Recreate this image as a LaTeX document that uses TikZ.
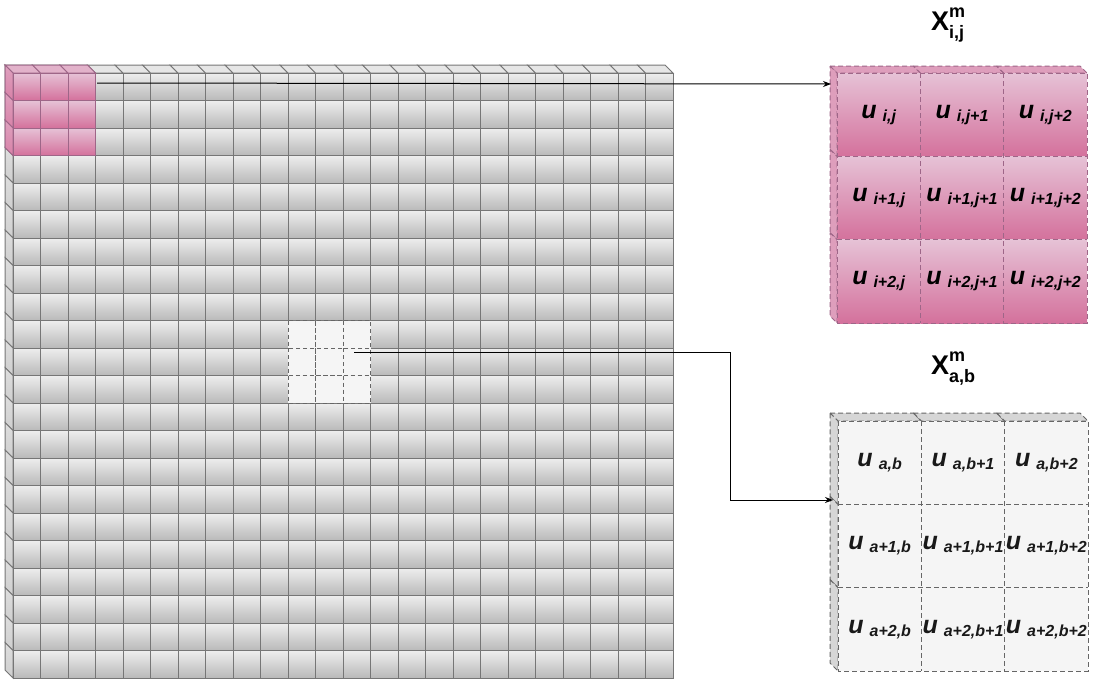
\documentclass[tikz,border=0pt]{standalone}
\usepackage{fontspec}
\setmainfont{Liberation Sans}
\usetikzlibrary{positioning,arrows.meta,calc}
\definecolor{grayTop}{HTML}{EEEEEE}
\definecolor{grayBot}{HTML}{B9B9B9}
\definecolor{grayLine}{HTML}{767676}
\definecolor{pinkTop}{HTML}{E6C2D6}
\definecolor{pinkBot}{HTML}{D4719C}
\definecolor{pinkLine}{HTML}{9E6688}
\definecolor{paleFill}{HTML}{F5F5F5}
\definecolor{darkLine}{HTML}{666666}
\newcommand{\ucell}[1]{{\fontsize{25}{27}\selectfont\bfseries\itshape u}\hspace{6pt}\raisebox{-3pt}{\fontsize{16}{18}\selectfont\bfseries\itshape #1}}
\newcommand{\tsym}[1]{X\rlap{\raisebox{13pt}{\fontsize{18}{20}\selectfont m}}\raisebox{-8pt}{\fontsize{18}{20}\selectfont #1}}
\tikzset{
  cube/.style={draw=grayLine, line width=1pt, top color=grayTop, bottom color=grayBot},
  face/.style={draw=grayLine, line width=1pt, fill=grayTop!85!grayBot},
  side/.style={draw=grayLine, line width=1pt, top color=grayTop!70!grayBot, bottom color=grayTop!40!grayBot},
  pcube/.style={draw=pinkLine, line width=1pt, top color=pinkTop, bottom color=pinkBot},
  pface/.style={draw=pinkLine, line width=1pt, fill=pinkTop!80!pinkBot},
  pside/.style={draw=pinkLine, line width=1pt, top color=pinkTop!60!pinkBot, bottom color=pinkTop!20!pinkBot},
  wcube/.style={draw=darkLine, line width=1pt, fill=paleFill, dash pattern=on 4pt off 3pt},
  bigcell/.style={minimum width=83.33pt, minimum height=83.33pt, inner sep=0pt, outer sep=0pt},
  pcell/.style={top color=pinkTop, bottom color=pinkBot},
  gcell/.style={fill=paleFill, text=black!90},
  pdash/.style={draw=pinkLine, line width=1pt, dash pattern=on 5pt off 3pt},
  gdash/.style={draw=darkLine, line width=1pt, dash pattern=on 5pt off 3pt},
  pdep/.style={pdash, fill=pinkTop!55!pinkBot},
  gdep/.style={gdash, fill=black!16},
  title/.style={font=\fontsize{27}{29}\selectfont\bfseries, inner sep=0pt, anchor=base west},
  link/.style={-{Stealth[length=8pt,width=6pt]}, line width=1pt, black},
}
\begin{document}
\begin{tikzpicture}[x=1pt,y=-1pt]
\useasboundingbox (0,0) rectangle (1098,681);
% input grid, 24 x 22 cubes
\foreach \c in {0,...,23}
  \draw[face] ({5+\c*27.5},65) -- ++(27.5,0) -- ++(8,8) -- ++(-27.5,0) -- cycle;
\foreach \r in {0,...,21}
  \draw[side] (5,{65+\r*27.5}) -- ++(8,8) -- ++(0,27.5) -- ++(-8,-8) -- cycle;
\foreach \c in {0,...,23}
  \foreach \r in {0,...,21}
    \draw[cube] ({13+\c*27.5},{73+\r*27.5}) rectangle ++(27.5,27.5);
% patch at (i,j)
\foreach \c in {0,1,2}
  \draw[pface] ({5+\c*27.5},65) -- ++(27.5,0) -- ++(8,8) -- ++(-27.5,0) -- cycle;
\foreach \r in {0,1,2}
  \draw[pside] (5,{65+\r*27.5}) -- ++(8,8) -- ++(0,27.5) -- ++(-8,-8) -- cycle;
\foreach \c in {0,1,2}
  \foreach \r in {0,1,2}
    \draw[pcube] ({13+\c*27.5},{73+\r*27.5}) rectangle ++(27.5,27.5);
% patch at (a,b)
\foreach \c in {10,11,12}
  \foreach \r in {9,10,11}
    \draw[wcube] ({13+\c*27.5},{73+\r*27.5}) rectangle ++(27.5,27.5);
\coordinate (srcP) at (97,83);
\coordinate (srcW) at (354,352);

% X_{i,j}
\foreach \c in {0,1,2}
  \draw[pdep] ({830+\c*83.33},66) -- ++(83.33,0) -- ++(7,7) -- ++(-83.33,0) -- cycle;
\foreach \r in {0,1,2}
  \draw[pdep] (830,{66+\r*83.33}) -- ++(7,7) -- ++(0,83.33) -- ++(-7,-7) -- cycle;
\foreach \r/\rl in {0/i,1/i+1,2/i+2}
  \foreach \c/\cl in {0/j,1/j+1,2/j+2}
    \node[bigcell, pcell] (p\r\c) at ({878.67+\c*83.33},{114.67+\r*83.33}) {\ucell{\rl,\cl}};
\draw[pdash] (p00.north west) rectangle (p22.south east);
\draw[pdash] (p00.north east) -- (p20.south east) (p01.north east) -- (p21.south east)
  (p00.south west) -- (p02.south east) (p10.south west) -- (p12.south east);
\node[title] (xij) at (931,30) {\tsym{i,j}};

% X_{a,b}
\foreach \c in {0,1,2}
  \draw[gdep] ({830+\c*83.33},413) -- ++(83.33,0) -- ++(8,8) -- ++(-83.33,0) -- cycle;
\foreach \r in {0,1,2}
  \draw[gdep] (830,{413+\r*83.33}) -- ++(8,8) -- ++(0,83.33) -- ++(-8,-8) -- cycle;
\foreach \r/\rl in {0/a,1/a+1,2/a+2}
  \foreach \c/\cl in {0/b,1/b+1,2/b+2}
    \node[bigcell, gcell] (g\r\c) at ({879.67+\c*83.33},{462.67+\r*83.33}) {\ucell{\rl,\cl}};
\draw[gdash] (g00.north west) rectangle (g22.south east);
\draw[gdash] (g00.north east) -- (g20.south east) (g01.north east) -- (g21.south east)
  (g00.south west) -- (g02.south east) (g10.south west) -- (g12.south east);
\node[title] (xab) at (931,374) {\tsym{a,b}};

\coordinate (pIn) at (831,84);
\coordinate (gIn) at (833,500);
\coordinate (elbow) at (730,500);
\draw[link] (srcP) -- (pIn);
\draw[link] (srcW) -| (elbow) -- (gIn);
\end{tikzpicture}
\end{document}
